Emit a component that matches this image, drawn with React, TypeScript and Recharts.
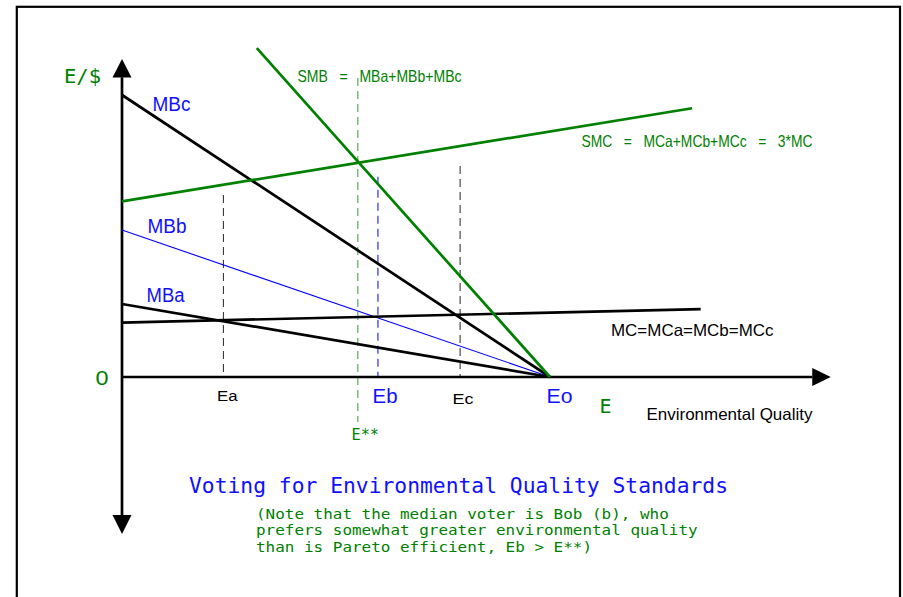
import React from 'react'
import { LineChart, Line, XAxis, YAxis, ReferenceLine, ReferenceDot } from 'recharts'

// E (environmental quality) on x, Eo = 100; $ on y, MBc intercept = 100
const mbcLine = [{ e: 0, v: 100 }, { e: 100, v: 0 }]
const mbbLine = [{ e: 0, v: 52.1 }, { e: 100, v: 0 }]
const mbaLine = [{ e: 0, v: 25.9 }, { e: 100, v: 0 }]
const mcLine = [{ e: 0, v: 19.3 }, { e: 135.2, v: 24.1 }]
const smcLine = [{ e: 0, v: 62.3 }, { e: 133.2, v: 95.3 }]
const smbLine = [{ e: 31.5, v: 116.6 }, { e: 100, v: 0 }]

// vertical guides: Ea, E**, Eb, Ec
const guideE = [23.7, 55.1, 59.8, 79.0]
const guideTop = [64.5, 106, 71.0, 74.8]
const guideBottom = [0, -16, 0, 0]

// axes
const xAxisLine = [0, 161.3]
const yAxisLine = [-48.9, 106.3]
const xArrowTip = 165.6
const yArrowTips = [112.8, -55.7]

const noteLines = [
  '(Note that the median voter is Bob (b), who',
  'prefers somewhat greater environmental quality',
  'than is Pareto efficient, Eb > E**)',
]

const GREEN = '#008000'
const BLUE = '#1010ff'
const MONO = 'DejaVu Sans Mono'
const SANS = 'Liberation Sans'

const guideStroke = ['#3a3a3a', '#4f9f4f', '#1a1aff', '#3a3a3a']

function upArrow(p: any) {
  const { cx, cy } = p
  return <polygon points={`${cx},${cy} ${cx - 9.5},${cy + 18.5} ${cx + 9.5},${cy + 18.5}`} fill="#000" />
}
function downArrow(p: any) {
  const { cx, cy } = p
  return <polygon points={`${cx},${cy} ${cx - 9.5},${cy - 19} ${cx + 9.5},${cy - 19}`} fill="#000" />
}
function rightArrow(p: any) {
  const { cx, cy } = p
  return <polygon points={`${cx},${cy} ${cx - 18.5},${cy - 9} ${cx - 18.5},${cy + 9}`} fill="#000" />
}

function T({ x, y, size, fill, mono, len, children }: any) {
  return (
    <text
      x={x}
      y={y}
      fontSize={size}
      fill={fill}
      fontFamily={mono ? MONO : SANS}
      textLength={len}
      lengthAdjust={len ? 'spacingAndGlyphs' : undefined}
      style={{ whiteSpace: 'pre' }}
    >
      {children}
    </text>
  )
}

export default function App() {
  return (
    <div style={{ position: 'absolute', left: 0, top: 0, width: 903, height: 597, background: '#fff', overflow: 'hidden' }}>
      <LineChart width={903} height={597} margin={{ top: 24.5, right: 32, bottom: 22.6, left: 36.4 }}>
        <XAxis type="number" dataKey="e" domain={[-20, 175]} allowDataOverflow hide />
        <YAxis type="number" domain={[-70, 125]} allowDataOverflow hide />
        {guideE.map((e, i) => (
          <ReferenceLine
            key={i}
            segment={[{ x: e, y: guideTop[i] }, { x: e, y: guideBottom[i] }]}
            stroke={guideStroke[i]}
            strokeWidth={1.1}
            strokeDasharray="8 5"
            ifOverflow="visible"
          />
        ))}
        <ReferenceLine segment={[{ x: xAxisLine[0], y: 0 }, { x: xAxisLine[1], y: 0 }]} stroke="#000" strokeWidth={2.7} ifOverflow="visible" />
        <ReferenceLine segment={[{ x: 0, y: yAxisLine[0] }, { x: 0, y: yAxisLine[1] }]} stroke="#000" strokeWidth={2.7} ifOverflow="visible" />
        <ReferenceDot x={0} y={yArrowTips[0]} r={0} shape={upArrow} ifOverflow="visible" />
        <ReferenceDot x={0} y={yArrowTips[1]} r={0} shape={downArrow} ifOverflow="visible" />
        <ReferenceDot x={xArrowTip} y={0} r={0} shape={rightArrow} ifOverflow="visible" />
        <Line data={mbcLine} dataKey="v" stroke="#000" strokeWidth={2.7} dot={false} isAnimationActive={false} />
        <Line data={mbbLine} dataKey="v" stroke="#0000ff" strokeWidth={1.1} dot={false} isAnimationActive={false} />
        <Line data={mbaLine} dataKey="v" stroke="#000" strokeWidth={2.7} dot={false} isAnimationActive={false} />
        <Line data={mcLine} dataKey="v" stroke="#000" strokeWidth={2.7} dot={false} isAnimationActive={false} />
        <Line data={smcLine} dataKey="v" stroke={GREEN} strokeWidth={2.7} dot={false} isAnimationActive={false} />
        <Line data={smbLine} dataKey="v" stroke={GREEN} strokeWidth={2.7} dot={false} isAnimationActive={false} />
      </LineChart>
      <svg width={903} height={597} style={{ position: 'absolute', left: 0, top: 0, pointerEvents: 'none' }}>
        <rect x={16.8} y={6.8} width={883.2} height={700} fill="none" stroke="#000" strokeWidth={2.2} />
        <T x={64} y={83} size={20} fill={GREEN} mono len={37}>E/$</T>
        <T x={152.5} y={111} size={20} fill={BLUE} len={38}>MBc</T>
        <T x={147.5} y={232.7} size={20} fill={BLUE} len={39}>MBb</T>
        <T x={146.5} y={302.3} size={20} fill={BLUE} len={38}>MBa</T>
        <T x={95.5} y={385} size={20} fill={GREEN} len={13}>0</T>
        <T x={217} y={400.7} size={15.5} fill="#000" len={20.5}>Ea</T>
        <T x={372.5} y={403} size={20} fill={BLUE} len={25}>Eb</T>
        <T x={351.5} y={440} size={15} fill={GREEN} mono len={27.5}>E**</T>
        <T x={452.5} y={404.3} size={15.5} fill="#000" len={21}>Ec</T>
        <T x={546.5} y={403.3} size={20} fill={BLUE} len={26}>Eo</T>
        <T x={599.5} y={412.7} size={20} fill={GREEN} mono>E</T>
        <T x={646.5} y={420} size={16.5} fill="#000" len={166}>Environmental Quality</T>
        <T x={611} y={335.7} size={16.5} fill="#000" len={162.5}>MC=MCa=MCb=MCc</T>
        <T x={297.5} y={82.3} size={17} fill={GREEN} len={164}>SMB   =   MBa+MBb+MBc</T>
        <T x={581.5} y={146.7} size={16.5} fill={GREEN} len={231}>SMC   =   MCa+MCb+MCc   =   3*MC</T>
        <T x={189} y={493.3} size={21} fill={BLUE} mono len={539}>Voting for Environmental Quality Standards</T>
        {noteLines.map((s, i) => (
          <T key={i} x={256} y={518.5 + i * 16.6} size={14.2} fill={GREEN} mono len={s.length * 9.6}>{s}</T>
        ))}
      </svg>
    </div>
  )
}
